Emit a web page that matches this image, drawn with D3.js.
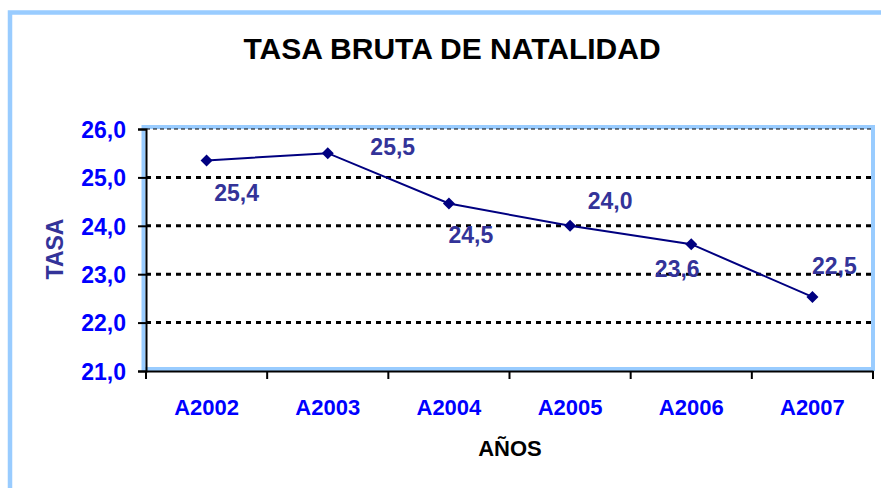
<html>
<head>
<meta charset="utf-8">
<script src="https://d3js.org/d3.v7.min.js"></script>
<style>
  body { margin: 0; background: #fff; }
  text { font-family: Arial, "Liberation Sans", sans-serif; font-weight: bold; }
</style>
</head>
<body>
<div id="chart"></div>
<script>
  // data
  let years = ["A2002", "A2003", "A2004", "A2005", "A2006", "A2007"];
  let tasa = [25.35, 25.5, 24.46, 24.0, 23.62, 22.53];
  let yTicks = [21, 22, 23, 24, 25, 26];
  // label nudges (dx, dy of baseline) as placed in the original sheet
  let labelDx = [30, 65, 22, 40, -14, 22];
  let labelDy = [41, 2, 39, -17, 33, -23];

  let width = 881, height = 488;
  let plotLeft = 146, plotRight = 873, plotTop = 129, plotBottom = 371;

  let svg = d3.select("#chart").append("svg")
    .attr("width", width)
    .attr("height", height);

  // outer frame
  svg.append("rect")
    .attr("x", 10).attr("y", 12.5)
    .attr("width", 900).attr("height", 500)
    .style("fill", "white")
    .style("stroke", "#99ccff")
    .style("stroke-width", 4.5);

  let x = d3.scaleBand().domain(years).range([plotLeft, plotRight]).padding(0);
  let y = d3.scaleLinear().domain([21, 26]).range([plotBottom, plotTop]);
  let fmt = d => d3.format(".1f")(d).replace(".", ",");

  // plot area border
  svg.append("rect")
    .attr("x", plotLeft - 2.5).attr("y", plotTop - 2)
    .attr("width", plotRight - plotLeft + 2.5).attr("height", plotBottom - plotTop)
    .style("fill", "white")
    .style("stroke", "#99ccff")
    .style("stroke-width", 4);

  // gridlines
  svg.append("g").selectAll("line")
    .data(yTicks.filter(d => d > 21))
    .enter().append("line")
      .attr("x1", plotLeft).attr("x2", plotRight - 2)
      .attr("y1", d => y(d)).attr("y2", d => y(d))
      .style("stroke", "black")
      .style("stroke-width", d => d == 26 ? 1 : 3)
      .style("stroke-dasharray", d => d == 26 ? "4,3" : "5,5");

  // y axis
  let yAxis = svg.append("g")
    .attr("transform", "translate(" + plotLeft + ",0)")
    .call(d3.axisLeft(y).tickValues(yTicks).tickFormat(fmt).tickSize(8).tickPadding(12));
  yAxis.select(".domain").style("stroke", "black").style("stroke-width", 2);
  yAxis.selectAll(".tick line").style("stroke", "black").style("stroke-width", 2);
  yAxis.selectAll(".tick text")
    .style("font-size", "23px").style("font-family", "Arial, 'Liberation Sans', sans-serif")
    .style("font-weight", "bold").style("fill", "#0000ff")
    .attr("dy", "0.36em");

  // x axis
  let xAxis = svg.append("g")
    .attr("transform", "translate(0," + plotBottom + ")")
    .call(d3.axisBottom(x).tickSize(0).tickPadding(28));
  xAxis.select(".domain").style("stroke", "black").style("stroke-width", 2);
  xAxis.selectAll(".tick text")
    .style("font-size", "22px").style("font-family", "Arial, 'Liberation Sans', sans-serif")
    .style("font-weight", "bold").style("fill", "#0000ff");

  // boundary ticks
  let bounds = years.map(d => x(d)).concat([x(years[years.length - 1]) + x.bandwidth()]);
  xAxis.selectAll(".bound")
    .data(bounds)
    .enter().append("line")
      .attr("class", "bound")
      .attr("x1", d => d).attr("x2", d => d)
      .attr("y1", 0).attr("y2", 8)
      .style("stroke", "black").style("stroke-width", 2);

  // line
  let cx = (d, i) => x(years[i]) + x.bandwidth() / 2;
  svg.append("path")
    .datum(tasa)
    .attr("d", d3.line().x(cx).y(d => y(d)))
    .style("fill", "none")
    .style("stroke", "#000080")
    .style("stroke-width", 2);

  // markers
  svg.append("g").selectAll("path")
    .data(tasa)
    .enter().append("path")
      .attr("d", d3.symbol(d3.symbolSquare, 72))
      .attr("transform", (d, i) => "translate(" + cx(d, i) + "," + y(d) + ") rotate(45)")
      .style("fill", "#000080");

  // data labels
  svg.append("g").selectAll("text")
    .data(tasa)
    .enter().append("text")
      .attr("x", (d, i) => cx(d, i) + labelDx[i])
      .attr("y", (d, i) => y(d) + labelDy[i])
      .attr("text-anchor", "middle")
      .style("font-size", "23px")
      .style("fill", "#333399")
      .text(d => fmt(d));

  // titles
  svg.append("text")
    .attr("x", 452).attr("y", 59)
    .attr("text-anchor", "middle")
    .style("font-size", "30px")
    .style("fill", "black")
    .text("TASA BRUTA DE NATALIDAD");

  svg.append("text")
    .attr("transform", "translate(63,249) rotate(-90)")
    .attr("text-anchor", "middle")
    .style("font-size", "23px")
    .style("fill", "#333399")
    .text("TASA");

  svg.append("text")
    .attr("x", 510).attr("y", 456)
    .attr("text-anchor", "middle")
    .style("font-size", "22px")
    .style("fill", "black")
    .text("AÑOS");
</script>
</body>
</html>
